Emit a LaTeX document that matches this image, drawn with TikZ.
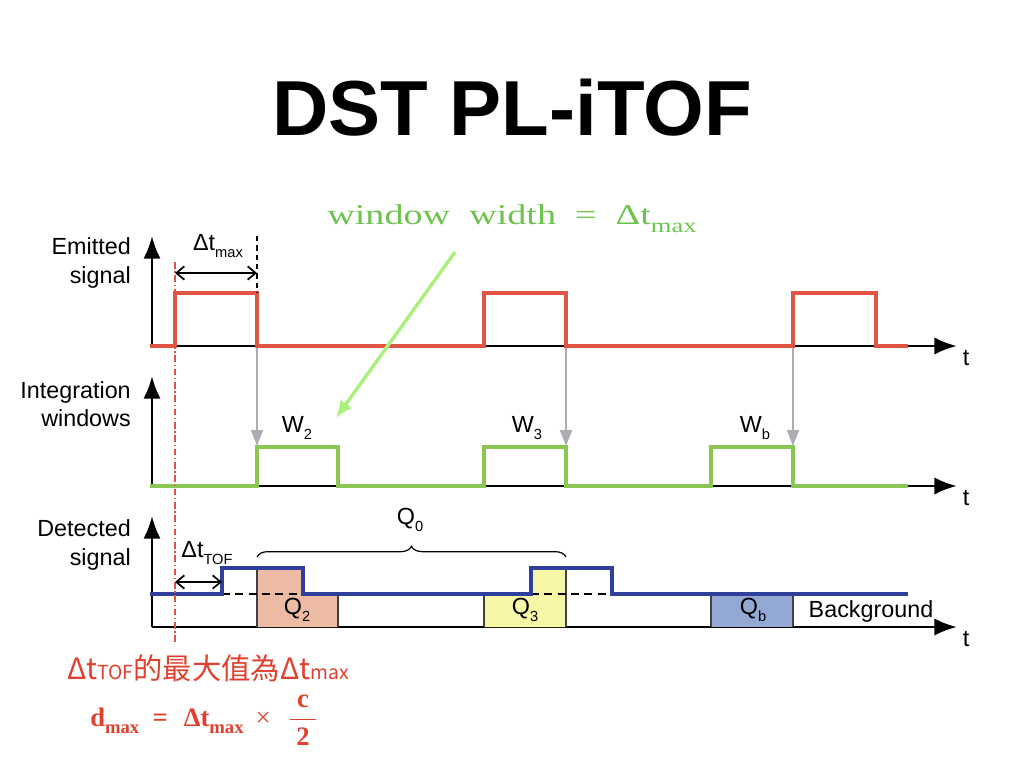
\documentclass[tikz,border=0pt]{standalone}
\usepackage{fontspec}
\setmainfont{Liberation Sans}
\newfontfamily\notefont{Liberation Serif}
\newfontfamily\cjk{Noto Sans CJK TC}
\usetikzlibrary{arrows.meta,decorations.pathreplacing}

\definecolor{emitred}{HTML}{E05444}
\definecolor{wingreen}{HTML}{8CC652}
\definecolor{detblue}{HTML}{2E3F9C}
\definecolor{qtwo}{HTML}{EDBBA3}
\definecolor{qthree}{HTML}{F7F5A6}
\definecolor{qbg}{HTML}{93A8D3}
\definecolor{notegreen}{HTML}{6EC24E}
\definecolor{notered}{HTML}{E0402E}
\definecolor{pointgreen}{HTML}{ABF07E}
\definecolor{guidegrey}{HTML}{ABADB2}

\newcommand{\lowidx}[2][11]{\raisebox{-0.6ex}{\fontsize{#1}{#1}\selectfont #2}}

\begin{document}
\begin{tikzpicture}[x=0.75pt,y=-0.75pt,
    axis/.style={line width=2.2pt,-{Latex[length=17pt,width=13pt]}},
    signal/.style={line width=3pt},
    lbl/.style={font=\fontsize{17.5}{21.5}\selectfont,inner sep=0pt},
    span/.style={line width=1.3pt,{Straight Barb[length=6pt,width=10pt]}-{Straight Barb[length=6pt,width=10pt]}},
    guide/.style={line width=1.5pt,guidegrey,-{Triangle[length=12pt,width=9pt]}},
    qbox/.style={line width=0.8pt,black!75}]
    \useasboundingbox (0,0) rectangle (1024,768);

    \node[font=\fontsize{58.5}{58.5}\selectfont\bfseries] (title) at (512,108) {DST PL-iTOF};

    % axes
    \coordinate (eO) at (152,346);
    \coordinate (iO) at (152,486);
    \coordinate (dO) at (152,627);
    \draw[axis] (eO) -- (152,236);
    \draw[axis] (eO) -- (957,346);
    \draw[axis] (iO) -- (152,376);
    \draw[axis] (iO) -- (957,486);
    \draw[axis] (dO) -- (152,516);
    \draw[axis] (dO) -- (957,627);
    \node[lbl] (te) at (966,358) {t};
    \node[lbl] (ti) at (966,498) {t};
    \node[lbl] (td) at (966,639) {t};

    \node[lbl,anchor=east,align=right] (emit) at (131,263) {Emitted\\signal};
    \node[lbl,anchor=east,align=right] (integ) at (131,404) {Integration\\windows};
    \node[lbl,anchor=east,align=right] (detect) at (131,545) {Detected\\signal};

    % charge areas
    \fill[qtwo] (257,627) |- (303,568) |- (338,594) -- (338,627) -- cycle;
    \fill[qthree] (484,627) |- (531,594) |- (566,568) -- (566,627) -- cycle;
    \fill[qbg] (711,594) rectangle (793,627);
    \draw[qbox] (257,568) -- (257,627);
    \draw[qbox] (338,594) -- (338,627);
    \draw[qbox] (484,594) -- (484,627);
    \draw[qbox] (566,568) -- (566,627);
    \draw[qbox] (711,594) -- (711,627);
    \draw[qbox] (793,594) -- (793,627);
    \draw[line width=1pt,dash pattern=on 6pt off 4pt] (222,594) -- (303,594);
    \draw[line width=1pt,dash pattern=on 6pt off 4pt] (531,594) -- (612,594);

    % signals
    \draw[signal,emitred] (150,346) -- (175,346) |- (257,293) |- (484,346) |- (566,293) |- (793,346) |- (876,293) |- (908,346);
    \draw[signal,wingreen] (150,486) -- (257,486) |- (338,447) |- (484,486) |- (566,447) |- (711,486) |- (793,447) |- (908,486);
    \draw[signal,detblue] (150,594) -- (222,594) |- (303,568) |- (531,594) |- (612,568) |- (908,594);

    % window triggers
    \draw[guide] (257,348) -- (257,446);
    \draw[guide] (566,348) -- (566,446);
    \draw[guide] (793,348) -- (793,446);

    \node[lbl] (w2) at (297,428) {W\lowidx{2}};
    \node[lbl] (w3) at (527,428) {W\lowidx{3}};
    \node[lbl] (wb) at (755,428) {W\lowidx{b}};
    \node[lbl] (q2) at (297,610) {Q\lowidx{2}};
    \node[lbl] (q3) at (525,610) {Q\lowidx{3}};
    \node[lbl] (qb) at (753,610) {Q\lowidx{b}};
    \node[lbl] (bg) at (871,611) {Background};

    % time marks
    \draw[emitred,line width=0.8pt,dash pattern=on 5pt off 2pt on 1pt off 2pt] (175,262) -- (175,642);
    \draw[line width=0.8pt,dash pattern=on 4pt off 3pt] (257,236) -- (257,293);
    \draw[span] (175,273) -- (257,273);
    \draw[span] (175,582) -- (222,582);
    \node[lbl] (tmax) at (218,246) {Δt\lowidx{max}};
    \node[lbl] (ttof) at (207,553) {Δt\lowidx{TOF}};
    \draw[line width=0.9pt,decorate,decoration={brace,amplitude=8pt,aspect=0.5}] (257,557) -- (566,557);
    \node[lbl] (q0) at (410,520) {Q\lowidx{0}};

    % notes
    \node[notegreen,inner sep=0pt] (wnote) at (512,219) {\scalebox{1.33}[1]{\notefont\fontsize{21.5}{21.5}\selectfont window\ \ width\ \ =\ \ Δt\lowidx[15]{max}}};
    \coordinate (wtip) at (336,418);
    \draw[pointgreen,line width=2.6pt,-{Latex[length=13pt,width=11pt]}] (455,252) -- (wtip);
    \node[notered,inner sep=0pt] (tofnote) at (208,668) {\cjk\fontsize{22}{22}\selectfont Δt{\fontsize{14.5}{14.5}\selectfont TOF}的最大值為Δt{\fontsize{14.5}{14.5}\selectfont max}};
    \node[notered,inner sep=0pt,anchor=west] (dnote) at (90,720) {\notefont\bfseries\fontsize{20}{20}\selectfont d\lowidx[14]{max}\hspace{10pt}=\hspace{12pt}Δt\lowidx[14]{max}\hspace{9pt}{\mdseries×}\hspace{13pt}$\displaystyle\frac{\hbox{\hspace{5pt}c\hspace{5pt}}}{\hbox{\hspace{5pt}2\hspace{5pt}}}$};
  \end{tikzpicture}
\end{document}
